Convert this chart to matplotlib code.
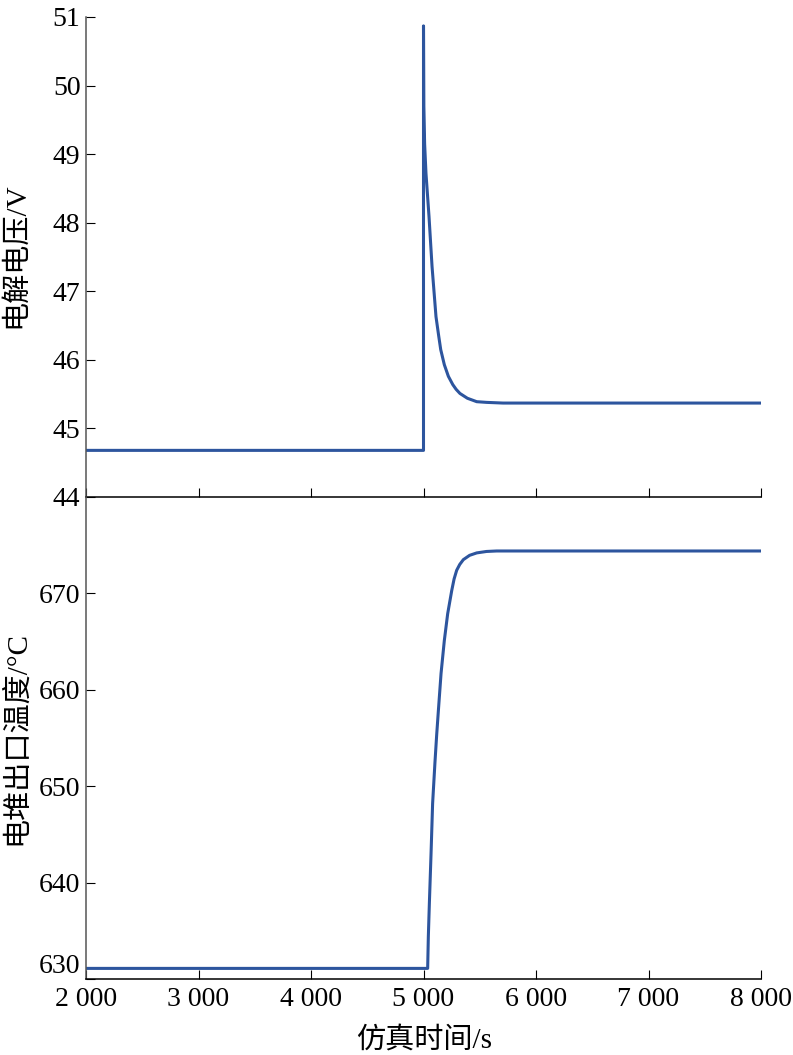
import matplotlib
matplotlib.use("Agg")
import matplotlib.pyplot as plt
from matplotlib.ticker import FuncFormatter

plt.rcParams['font.family'] = ['Liberation Serif', 'Noto Sans CJK SC', 'DejaVu Sans']

# ---- data ----
time_v = [2000, 5000, 5000, 5003, 5010, 5022, 5049, 5076, 5111, 5135, 5153, 5185, 5221,
          5260, 5290, 5324, 5390, 5473, 5560, 5707, 8000]
voltage = [44.68, 44.68, 50.87, 49.7, 49.15, 48.72, 48.09, 47.36, 46.63, 46.35, 46.15,
           45.93, 45.76, 45.64, 45.57, 45.51, 45.44, 45.39, 45.38, 45.37, 45.37]

time_t = [2000, 5037, 5043, 5052, 5067, 5081, 5102, 5117, 5132, 5156, 5185, 5215,
          5251, 5272, 5295, 5322, 5354, 5410, 5473, 5560, 5650, 8000]
temperature = [631.1, 631.1, 634.4, 637.8, 643.0, 648.2, 652.5, 655.3, 657.8, 661.7,
               665.1, 667.9, 670.3, 671.5, 672.4, 673.0, 673.5, 673.95, 674.2, 674.35,
               674.4, 674.4]

x_ticks = [2000, 3000, 4000, 5000, 6000, 7000, 8000]
v_ticks = [44, 45, 46, 47, 48, 49, 50, 51]
t_ticks = [630, 640, 650, 660, 670]

ylabel_top = "电解电压/V"
ylabel_bottom = "电堆出口温度/°C"
xlabel = "仿真时间/s"

line_color = "#2D559E"
fs = 20
fs_lab = 21

W, H = 793, 1055
fig = plt.figure(figsize=(W / 100, H / 100), dpi=100)
left, right = 86, 761
ax1 = fig.add_axes([left / W, 1 - 497 / H, (right - left) / W, (497 - 17) / H])
ax2 = fig.add_axes([left / W, 1 - 979 / H, (right - left) / W, (979 - 497) / H])

ax1.plot(time_v, voltage, color=line_color, lw=2.2, solid_joinstyle='round')
ax2.plot(time_t, temperature, color=line_color, lw=2.2, solid_joinstyle='round')

fmt = FuncFormatter(lambda v, p: f"{int(v):,}".replace(",", " "))

for ax in (ax1, ax2):
    ax.set_xlim(2000, 8000)
    ax.set_xticks(x_ticks)
    ax.spines['top'].set_visible(False)
    ax.spines['right'].set_visible(False)
    ax.spines['left'].set_color('#555555')
    ax.spines['left'].set_linewidth(1.1)
    ax.spines['bottom'].set_color('black')
    ax.spines['bottom'].set_linewidth(1.1)
    ax.tick_params(axis='both', direction='in', length=6.5, width=0.8,
                   labelsize=fs, colors='black')
    ax.tick_params(axis='y', pad=4)
    ax.patch.set_alpha(0)

ax1.set_ylim(44, 51)
ax1.set_yticks(v_ticks)
ax1.tick_params(axis='x', labelbottom=False)

ax2.set_ylim(630, 680)
ax2.set_yticks(t_ticks)
ax2.xaxis.set_major_formatter(fmt)
ax2.tick_params(axis='x', pad=6)

lbl = ax2.get_yticklabels()[0]
lbl.set_verticalalignment('bottom')

fig.text(16 / W, 1 - 255 / H, ylabel_top, rotation=90, ha='center', va='center',
         fontsize=fs_lab)
fig.text(16 / W, 1 - 738 / H, ylabel_bottom, rotation=90, ha='center', va='center',
         fontsize=fs_lab)
fig.text(424 / W, 1 - 1040 / H, xlabel, ha='center', va='center', fontsize=fs_lab)

fig.savefig("out.png", dpi=100)
